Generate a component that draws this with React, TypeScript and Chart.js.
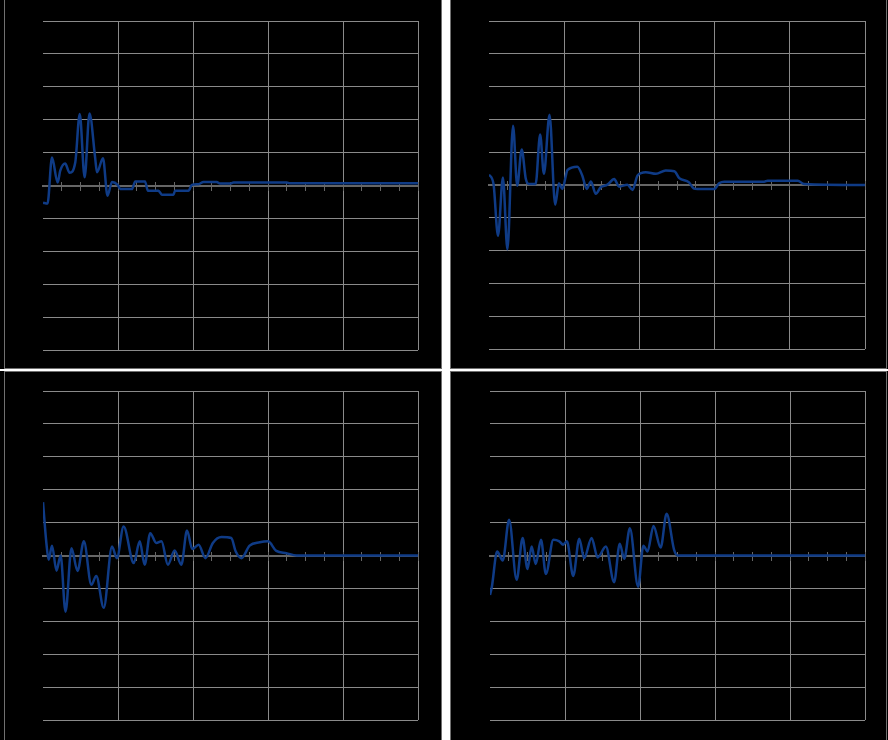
import React, { useEffect, useRef } from "react";
import { Chart, registerables } from "chart.js";

Chart.register(...registerables);

// ---- data (grid units; each panel: x 0..100, y -5..5) ----
const X_MIN = 0;
const X_MAX = 100;
const X_MAJOR_STEP = 20;
const X_MINOR_STEP = 5;
const Y_MIN = -5;
const Y_MAX = 5;
const Y_STEP = 1;

const p1X = [0, 1.2, 2.4, 3.9, 4.6, 5.9, 7.1, 8.6, 9.8, 11.1, 12.4, 13.9, 14.4, 16.0, 17.2, 18.4, 19.9, 20.6, 23.7, 24.6, 27.2, 28, 30.8, 31.7, 34.8, 35.2, 38.8, 39.7, 41.5, 42.8, 46.3, 47.2, 49.9, 50.8, 65, 65.8, 100];
const p1Y = [-0.52, -0.55, 0.85, 0.09, 0.45, 0.67, 0.39, 0.7, 2.17, 0.25, 2.19, 0.85, 0.4, 0.83, -0.31, 0.11, 0.02, -0.11, -0.11, 0.12, 0.12, -0.16, -0.16, -0.28, -0.28, -0.16, -0.16, 0.02, 0.04, 0.11, 0.11, 0.06, 0.06, 0.09, 0.09, 0.07, 0.07];

const p2X = [0, 1.2, 2.4, 3.7, 4.9, 6.4, 7.5, 8.7, 9.8, 10.6, 12.4, 13.6, 14.6, 16.1, 17.6, 18.6, 19.5, 20.9, 23.5, 24.8, 26, 27.1, 28.4, 29.7, 31.5, 33.3, 34.6, 36.8, 38.2, 39.5, 41.7, 44.4, 47, 49.3, 50.6, 53.2, 54.4, 55.5, 59.9, 61.2, 62.6, 73.2, 74.1, 82.1, 83.8, 100];
const p2Y = [0.32, 0.03, -1.55, 0.23, -1.96, 1.81, -0.02, 1.08, 0.18, 0.03, 0.03, 1.54, 0.34, 2.14, -0.6, 0.05, -0.12, 0.46, 0.56, 0.29, -0.12, 0.11, -0.27, -0.07, 0.01, 0.18, -0.05, 0.01, -0.15, 0.29, 0.39, 0.34, 0.44, 0.42, 0.21, 0.08, -0.1, -0.12, -0.12, 0.05, 0.1, 0.1, 0.13, 0.13, 0.03, 0];

const p3X = [0, 0.9, 1.5, 2.4, 3.6, 4.7, 6.0, 7.6, 9.2, 10.9, 12.9, 14.2, 16.2, 18.4, 19.7, 21.5, 24.2, 25.8, 27.1, 28.6, 30.2, 31.6, 33.3, 35.1, 36.9, 38.4, 39.8, 41.5, 43.3, 45.3, 47.6, 50.2, 51.4, 52.9, 55.1, 57.8, 60, 62.2, 64.9, 67.6, 100];
const p3Y = [1.62, 0.38, -0.13, 0.3, -0.46, 0, -1.71, 0.22, -0.47, 0.43, -0.89, -0.62, -1.59, 0.27, -0.08, 0.88, -0.23, 0.43, -0.28, 0.68, 0.38, 0.43, -0.28, 0.15, -0.28, 0.76, 0.2, 0.33, -0.08, 0.38, 0.56, 0.53, 0.12, -0.08, 0.3, 0.4, 0.43, 0.14, 0.07, 0, 0];

const p4X = [0, 0.5, 1.9, 3.4, 5.1, 7.1, 8.7, 10, 11.1, 12.2, 13.6, 14.9, 16.9, 18.5, 19.5, 20.5, 22.2, 23.8, 25.1, 27.1, 28.7, 30.9, 33.1, 34.6, 35.8, 37.3, 39.5, 40.9, 42, 43.6, 45.5, 47.1, 49.1, 50, 100];
const p4Y = [-1.2, -0.95, 0.12, -0.15, 1.09, -0.74, 0.53, -0.41, 0.27, -0.26, 0.48, -0.56, 0.48, 0.43, 0.33, 0.43, -0.62, 0.51, -0.08, 0.53, -0.06, 0.27, -0.81, 0.36, -0.1, 0.83, -0.95, 0.3, 0.12, 0.9, 0.24, 1.27, 0.17, 0, 0];

// ---- styles ----
const LINE_COLOR = "#0f3b86";
const GRID_COLOR = "#8a8a8a";
const AXIS_COLOR = "#666666";
const FRAME_COLOR = "#707070";

type Pad = { left: number; top: number; right: number; bottom: number };
type PanelDef = {
  xs: number[];
  ys: number[];
  left: number;
  top: number;
  width: number;
  height: number;
  pad: Pad;
  frame: React.CSSProperties;
};

const PANELS: PanelDef[] = [
  {
    xs: p1X, ys: p1Y, left: 0, top: 0, width: 442, height: 369,
    pad: { left: 43, top: 21, right: 24, bottom: 19 },
    frame: { left: 4, top: 0, width: 438, height: 369, borderLeft: `1px solid ${FRAME_COLOR}`, borderRight: `1px solid ${FRAME_COLOR}`, borderBottom: `1px solid ${FRAME_COLOR}` },
  },
  {
    xs: p2X, ys: p2Y, left: 450, top: 0, width: 438, height: 369,
    pad: { left: 39, top: 21, right: 23, bottom: 20 },
    frame: { left: 0, top: 0, width: 437, height: 369, borderLeft: `1px solid ${FRAME_COLOR}`, borderRight: `1px solid ${FRAME_COLOR}`, borderBottom: `1px solid ${FRAME_COLOR}` },
  },
  {
    xs: p3X, ys: p3Y, left: 0, top: 371, width: 442, height: 369,
    pad: { left: 43, top: 20, right: 24, bottom: 20 },
    frame: { left: 4, top: 0, width: 438, height: 369, borderLeft: `1px solid ${FRAME_COLOR}`, borderRight: `1px solid ${FRAME_COLOR}`, borderTop: `1px solid ${FRAME_COLOR}` },
  },
  {
    xs: p4X, ys: p4Y, left: 450, top: 371, width: 438, height: 369,
    pad: { left: 40, top: 20, right: 23, bottom: 20 },
    frame: { left: 0, top: 0, width: 437, height: 369, borderLeft: `1px solid ${FRAME_COLOR}`, borderRight: `1px solid ${FRAME_COLOR}`, borderTop: `1px solid ${FRAME_COLOR}` },
  },
];

function ChartPanel({ def }: { def: PanelDef }) {
  const ref = useRef<HTMLCanvasElement | null>(null);

  useEffect(() => {
    if (!ref.current) return;
    const points = def.xs.map((x, i) => ({ x, y: def.ys[i] }));
    const minorAxis = (len: number, showBorder: boolean) => ({
      axis: "x",
      type: "linear",
      min: X_MIN,
      max: X_MAX,
      position: { y: 0 },
      ticks: { display: false, stepSize: X_MINOR_STEP },
      grid: {
        display: true,
        drawOnChartArea: false,
        drawTicks: true,
        tickLength: len,
        tickWidth: 1,
        tickColor: (ctx: any) => (ctx.index === 0 ? "rgba(0,0,0,0)" : AXIS_COLOR),
      },
      border: { display: showBorder, color: AXIS_COLOR, width: 2 },
      afterFit: (s: any) => {
        s.height = 0;
      },
    });

    const chart = new Chart(ref.current, {
      type: "line",
      data: {
        datasets: [
          {
            data: points,
            borderColor: LINE_COLOR,
            borderWidth: 2.5,
            pointRadius: 0,
            fill: false,
            cubicInterpolationMode: "monotone",
            xAxisID: "x",
            yAxisID: "y",
          },
        ],
      },
      options: {
        responsive: false,
        animation: false,
        events: [],
        layout: { padding: def.pad, autoPadding: false },
        plugins: {
          legend: { display: false },
          tooltip: { enabled: false },
          title: { display: false },
        },
        scales: {
          x: {
            type: "linear",
            min: X_MIN,
            max: X_MAX,
            position: "bottom",
            ticks: { display: false, stepSize: X_MAJOR_STEP },
            grid: {
              color: (ctx: any) => (ctx.index === 0 ? "rgba(0,0,0,0)" : GRID_COLOR),
              lineWidth: 1,
              drawTicks: false,
            },
            border: { display: false },
          },
          y: {
            type: "linear",
            min: Y_MIN,
            max: Y_MAX,
            position: "left",
            ticks: { display: false, stepSize: Y_STEP },
            grid: {
              color: (ctx: any) => (ctx.tick && ctx.tick.value === 0 ? "rgba(0,0,0,0)" : GRID_COLOR),
              lineWidth: 1,
              drawTicks: false,
            },
            border: { display: false },
          },
          xMinorDown: minorAxis(4, true) as any,
          xMinorUp: minorAxis(-4, false) as any,
        },
      } as any,
    });
    return () => chart.destroy();
  }, [def]);

  return (
    <div
      style={{
        position: "absolute",
        left: def.left,
        top: def.top,
        width: def.width,
        height: def.height,
        background: "#000",
        overflow: "hidden",
      }}
    >
      <canvas ref={ref} width={def.width} height={def.height} style={{ display: "block" }} />
      <div style={{ position: "absolute", boxSizing: "border-box", pointerEvents: "none", ...def.frame }} />
    </div>
  );
}

export default function App() {
  return (
    <div
      style={{
        position: "absolute",
        left: 0,
        top: 0,
        width: 888,
        height: 740,
        background: "#ffffff",
        overflow: "hidden",
      }}
    >
      {PANELS.map((p, i) => (
        <ChartPanel key={i} def={p} />
      ))}
    </div>
  );
}
